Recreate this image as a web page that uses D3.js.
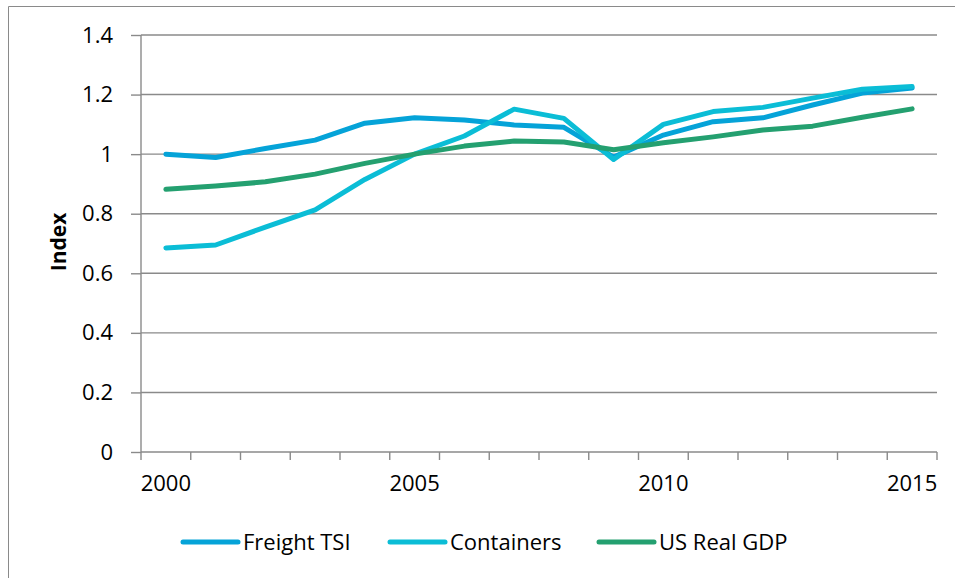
<!DOCTYPE html>
<html>
<head>
<meta charset="utf-8">
<script src="https://cdn.jsdelivr.net/npm/d3@7"></script>
<style>
  html, body { margin: 0; padding: 0; background: #ffffff; }
  svg { display: block; }
  text { font-family: "Open Sans", "Liberation Sans", sans-serif; fill: #000; }
</style>
</head>
<body>
<svg id="chart" width="955" height="578"></svg>
<script>
// Index values by year (2005 = 1)
const years = ["2000","2001","2002","2003","2004","2005","2006","2007",
               "2008","2009","2010","2011","2012","2013","2014","2015"];
const freightTSI = [1.000, 0.989, 1.019, 1.047, 1.104, 1.122, 1.115, 1.098,
                    1.090, 0.990, 1.064, 1.109, 1.122, 1.165, 1.205, 1.222];
const containers = [0.685, 0.695, 0.755, 0.813, 0.915, 1.000, 1.061, 1.151,
                    1.120, 0.982, 1.100, 1.143, 1.157, 1.188, 1.218, 1.227];
const usRealGDP  = [0.882, 0.893, 0.907, 0.933, 0.969, 1.000, 1.027, 1.044,
                    1.041, 1.015, 1.038, 1.058, 1.081, 1.094, 1.124, 1.152];
const seriesNames = ["Freight TSI", "Containers", "US Real GDP"];
const yTicks = [0, 0.2, 0.4, 0.6, 0.8, 1, 1.2, 1.4];
const xLabels = ["2000", "2005", "2010", "2015"];

const seriesColors = ["#05a3d8", "#0bbdd6", "#24a070"];
const seriesValues = [freightTSI, containers, usRealGDP];

const svg = d3.select("#chart");
const grey = "#8a8a8a";
const fontSize = 22;

// frame around the chart area
svg.append("path")
  .attr("d", "M8.5,578 V6.5 H955")
  .attr("fill", "none")
  .attr("stroke", grey)
  .attr("stroke-width", 1);

const plot = { left: 141, right: 937, top: 35, bottom: 452 };

const x = d3.scaleBand().domain(years).range([plot.left, plot.right]);
const y = d3.scaleLinear().domain([0, 1.4]).range([plot.bottom, plot.top]);

// horizontal gridlines
svg.append("g")
  .selectAll("line")
  .data(yTicks.filter(d => d > 0))
  .join("line")
  .attr("x1", plot.left).attr("x2", plot.right)
  .attr("y1", d => y(d)).attr("y2", d => y(d))
  .attr("stroke", grey).attr("stroke-width", 1.4);

// y axis
const yAxis = svg.append("g")
  .attr("transform", `translate(${plot.left},0)`)
  .call(d3.axisLeft(y).tickValues(yTicks).tickSize(10).tickPadding(18)
        .tickFormat(d => d3.format("~g")(d)));
yAxis.select(".domain").attr("stroke", grey).attr("stroke-width", 1.4)
  .attr("d", `M0,${plot.bottom}V${plot.top}`);
yAxis.selectAll(".tick line").attr("stroke", grey).attr("stroke-width", 1.4);
yAxis.selectAll(".tick text")
  .attr("font-size", fontSize).attr("font-family", "Open Sans").attr("fill", "#000");

// x axis: category ticks at band edges, labels at band centres
const xg = svg.append("g").attr("transform", `translate(0,${plot.bottom})`);
xg.append("line")
  .attr("x1", plot.left).attr("x2", plot.right)
  .attr("stroke", grey).attr("stroke-width", 1.4);
const edges = years.map(d => x(d)).concat([x(years[years.length - 1]) + x.bandwidth()]);
xg.selectAll("line.tk")
  .data(edges)
  .join("line")
  .attr("class", "tk")
  .attr("x1", d => d).attr("x2", d => d)
  .attr("y1", 0).attr("y2", 8)
  .attr("stroke", grey).attr("stroke-width", 1.4);
xg.selectAll("text")
  .data(xLabels)
  .join("text")
  .attr("x", d => x(d) + x.bandwidth() / 2)
  .attr("y", 39)
  .attr("text-anchor", "middle")
  .attr("font-size", fontSize)
  .text(d => d);

// y axis title
svg.append("text")
  .attr("transform", `translate(66,242) rotate(-90)`)
  .attr("text-anchor", "middle")
  .attr("font-size", 21)
  .attr("font-weight", "bold")
  .text("Index");

// series lines
const line = d3.line()
  .x((d, i) => x(years[i]) + x.bandwidth() / 2)
  .y(d => y(d));

svg.append("g")
  .selectAll("path")
  .data(seriesValues)
  .join("path")
  .attr("d", d => line(d))
  .attr("fill", "none")
  .attr("stroke", (d, i) => seriesColors[i])
  .attr("stroke-width", 5)
  .attr("stroke-linejoin", "round")
  .attr("stroke-linecap", "round");

// legend
const legendX = [183, 390, 599];
const legend = svg.append("g")
  .selectAll("g")
  .data(seriesNames)
  .join("g")
  .attr("transform", (d, i) => `translate(${legendX[i]},542)`);
legend.append("line")
  .attr("x1", 0).attr("x2", 55)
  .attr("stroke", (d, i) => seriesColors[i])
  .attr("stroke-width", 5)
  .attr("stroke-linecap", "round");
legend.append("text")
  .attr("x", 60)
  .attr("y", 8)
  .attr("font-size", fontSize)
  .text(d => d);
</script>
</body>
</html>
